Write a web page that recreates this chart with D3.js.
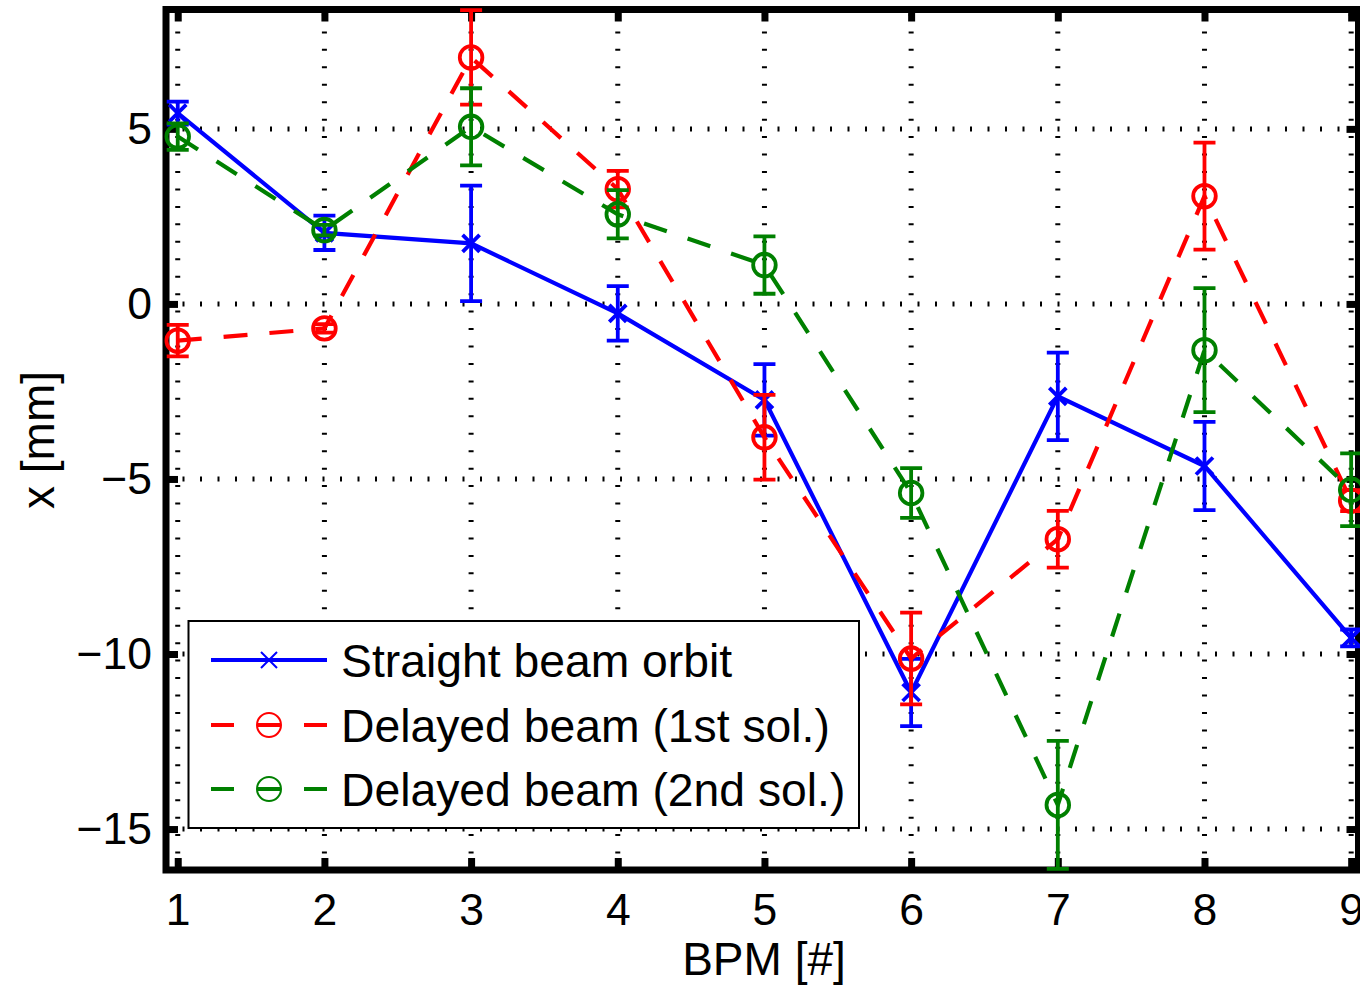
<!DOCTYPE html>
<html>
<head>
<meta charset="utf-8">
<script src="https://cdn.jsdelivr.net/npm/d3@7"></script>
<style>
  html, body { margin: 0; padding: 0; background: #fff; }
  svg { display: block; }
  text { font-family: "Liberation Sans", Arial, Helvetica, sans-serif; fill: #000; }
</style>
</head>
<body>
<svg id="chart" width="1360" height="986"></svg>
<script>
// ---- data ----
const bpm = [1, 2, 3, 4, 5, 6, 7, 8, 9];
const straight    = [5.45, 2.03, 1.73, -0.27, -2.74, -11.10, -2.64, -4.63, -9.54];
const straightErr = [0.33, 0.49, 1.65, 0.78, 1.02, 0.96, 1.25, 1.26, 0.24];
const delayed1    = [-1.05, -0.70, 7.04, 3.28, -3.81, -10.13, -6.72, 3.08, -5.62];
const delayed1Err = [0.45, 0.12, 1.35, 0.52, 1.21, 1.31, 0.81, 1.53, 0.30];
const delayed2    = [4.78, 2.11, 5.06, 2.56, 1.11, -5.40, -14.31, -1.32, -5.31];
const delayed2Err = [0.38, 0.15, 1.10, 0.69, 0.82, 0.71, 1.83, 1.77, 1.04];
const seriesNames = ["Straight beam orbit", "Delayed beam (1st sol.)", "Delayed beam (2nd sol.)"];
const xTicks = [1, 2, 3, 4, 5, 6, 7, 8, 9];
const yTicks = [5, 0, -5, -10, -15];
const xLabel = "BPM [#]";
const yLabel = "x [mm]";

const series = [
  { name: seriesNames[0], v: straight, e: straightErr, color: "#0000ff", dash: null, marker: "x" },
  { name: seriesNames[1], v: delayed1, e: delayed1Err, color: "#ff0000", dash: "24,22", marker: "o" },
  { name: seriesNames[2], v: delayed2, e: delayed2Err, color: "#008000", dash: "24,22", marker: "o" }
];

// ---- layout ----
const L = 166, R = 1358.5, T = 9.5, B = 870;
const x = d3.scaleLinear().domain([0.92, 9.05]).range([L, R]);
const y = d3.scaleLinear().domain([-16.17, 8.41]).range([B, T]);
const fs = 44.5;

const svg = d3.select("#chart");

// grid
const grid = svg.append("g");
grid.selectAll("line.hg").data(yTicks).enter().append("line")
  .attr("x1", L - 1).attr("x2", R).attr("y1", d => y(d)).attr("y2", d => y(d))
  .attr("stroke", "#000").attr("stroke-width", 5).attr("stroke-dasharray", "2,15.5");
grid.selectAll("line.vg").data(xTicks).enter().append("line")
  .attr("x1", d => x(d)).attr("x2", d => x(d)).attr("y1", B + 1).attr("y2", T)
  .attr("stroke", "#000").attr("stroke-width", 5).attr("stroke-dasharray", "2,15.45");

// axes
function styleAxis(g) {
  g.select(".domain").remove();
  g.selectAll(".tick line").attr("stroke", "#000").attr("stroke-width", 7);
  g.selectAll(".tick text").style("font-size", fs + "px").attr("fill", "#000");
}
const fmt = d => (d < 0 ? "\u2212" + Math.abs(d) : String(d));
svg.append("g").attr("transform", `translate(0,${B})`)
  .call(d3.axisBottom(x).tickValues(xTicks).tickSizeInner(-12).tickSizeOuter(0).tickPadding(23).tickFormat(fmt))
  .call(styleAxis);
svg.append("g").attr("transform", `translate(0,${T})`)
  .call(d3.axisTop(x).tickValues(xTicks).tickSizeInner(-12).tickSizeOuter(0).tickFormat(""))
  .call(styleAxis);
svg.append("g").attr("transform", `translate(${L},0)`)
  .call(d3.axisLeft(y).tickValues(yTicks).tickSizeInner(-12).tickSizeOuter(0).tickPadding(14).tickFormat(fmt))
  .call(styleAxis);
svg.append("g").attr("transform", `translate(${R},0)`)
  .call(d3.axisRight(y).tickValues(yTicks).tickSizeInner(-12).tickSizeOuter(0).tickFormat(""))
  .call(styleAxis);

// frame
svg.append("rect").attr("x", L).attr("y", T).attr("width", R - L).attr("height", B - T)
  .attr("fill", "none").attr("stroke", "#000").attr("stroke-width", 7);

// axis labels
svg.append("text").attr("x", 764).attr("y", 975).attr("text-anchor", "middle")
  .style("font-size", "46px").text(xLabel);
svg.append("text").attr("transform", "translate(54,440) rotate(-90)").attr("text-anchor", "middle")
  .style("font-size", "46px").text(yLabel);

// data
function drawMarker(g, cx, cy, s, r, sw) {
  if (s.marker === "x") {
    const h = r;
    g.append("path").attr("d", `M${cx - h},${cy - h}L${cx + h},${cy + h}M${cx - h},${cy + h}L${cx + h},${cy - h}`)
      .attr("stroke", s.color).attr("stroke-width", sw).attr("fill", "none");
  } else {
    g.append("circle").attr("cx", cx).attr("cy", cy).attr("r", r)
      .attr("stroke", s.color).attr("stroke-width", sw).attr("fill", "none");
  }
}

const line = d3.line().x(d => x(d[0])).y(d => y(d[1]));
series.forEach(s => {
  const g = svg.append("g");
  const pts = bpm.map((b, i) => [b, s.v[i], s.e[i]]);
  // error bars
  pts.forEach(p => {
    const cx = x(p[0]), y1 = y(p[1] - p[2]), y2 = y(p[1] + p[2]);
    g.append("path")
      .attr("d", `M${cx},${y1}L${cx},${y2}M${cx - 11},${y1}L${cx + 11},${y1}M${cx - 11},${y2}L${cx + 11},${y2}`)
      .attr("stroke", s.color).attr("stroke-width", 3.8).attr("fill", "none");
  });
  // line
  g.append("path").datum(pts).attr("d", line)
    .attr("fill", "none").attr("stroke", s.color).attr("stroke-width", 4.2)
    .attr("stroke-dasharray", s.dash);
  // markers
  pts.forEach(p => drawMarker(g, x(p[0]), y(p[1]), s, s.marker === "x" ? 8.5 : 11.3, 3.8));
});

// legend
const lg = svg.append("g");
lg.append("rect").attr("x", 188.5).attr("y", 621).attr("width", 670.5).attr("height", 207)
  .attr("fill", "#fff").attr("stroke", "#000").attr("stroke-width", 2);
const rows = [660, 725, 789];
series.forEach((s, i) => {
  const ry = rows[i];
  lg.append("line").attr("x1", 211).attr("x2", 327).attr("y1", ry).attr("y2", ry)
    .attr("stroke", s.color).attr("stroke-width", 4).attr("stroke-dasharray", s.dash ? "23,23.5" : null);
  drawMarker(lg, 269, ry, s, s.marker === "x" ? 8 : 12, 2);
  lg.append("text").attr("x", 341).attr("y", ry + 16.5).style("font-size", "46.3px").text(s.name);
});
</script>
</body>
</html>
